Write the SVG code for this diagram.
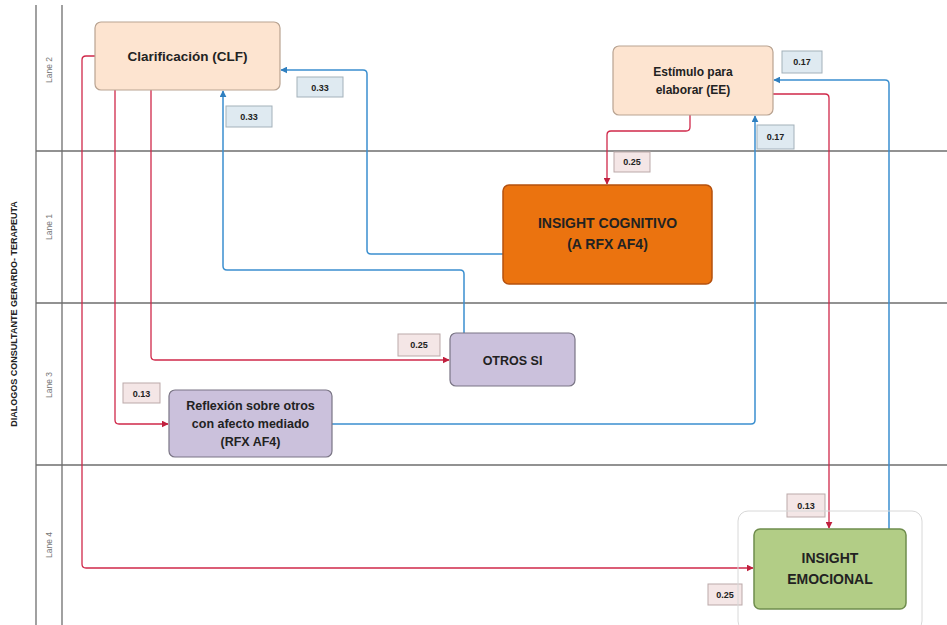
<svg xmlns="http://www.w3.org/2000/svg" width="947" height="625" viewBox="0 0 947 625">
<defs>
<marker id="ar" viewBox="0 0 10 10" refX="9" refY="5" markerWidth="7" markerHeight="7" orient="auto" markerUnits="userSpaceOnUse"><path d="M0,0 L10,5 L0,10 z" fill="#c0203e"/></marker>
<marker id="ab" viewBox="0 0 10 10" refX="9" refY="5" markerWidth="7" markerHeight="7" orient="auto" markerUnits="userSpaceOnUse"><path d="M0,0 L10,5 L0,10 z" fill="#2f7fbf"/></marker>
</defs>
<style>
.lane{stroke:#6e6e6e;stroke-width:1.3;fill:none}
.lt{font-family:"Liberation Sans",Arial,sans-serif;font-size:8.5px;fill:#777}
.t{font-family:"Liberation Sans",Arial,sans-serif;font-weight:bold;fill:#222;text-anchor:middle}
.r{stroke:#d0284a;stroke-width:1.3;fill:none;marker-end:url(#ar)}
.b{stroke:#3b8fcf;stroke-width:1.5;fill:none;marker-end:url(#ab)}
.lr{fill:#f4e6e6;stroke:#bba9a9;stroke-width:1}
.lb{fill:#dfeaf1;stroke:#a3b1ba;stroke-width:1}
.lbt{font-family:"Liberation Sans",Arial,sans-serif;font-weight:bold;font-size:9px;fill:#222;text-anchor:middle}
</style>
<rect width="947" height="625" fill="#ffffff"/>
<g id="lanes">
<line class="lane" x1="36" y1="5" x2="36" y2="625"/>
<line class="lane" x1="62" y1="5" x2="62" y2="625"/>
<line class="lane" x1="36" y1="151" x2="947" y2="151"/>
<line class="lane" x1="36" y1="303" x2="947" y2="303"/>
<line class="lane" x1="36" y1="465" x2="947" y2="465"/>
<text class="lt" transform="translate(52,70) rotate(-90)" text-anchor="middle">Lane 2</text>
<text class="lt" transform="translate(52,227) rotate(-90)" text-anchor="middle">Lane 1</text>
<text class="lt" transform="translate(52,385) rotate(-90)" text-anchor="middle">Lane 3</text>
<text class="lt" transform="translate(52,545) rotate(-90)" text-anchor="middle">Lane 4</text>
<text transform="translate(17,314) rotate(-90)" text-anchor="middle" style="font-family:'Liberation Sans',Arial,sans-serif;font-weight:bold;font-size:9px;fill:#222">DIALOGOS CONSULTANTE GERARDO- TERAPEUTA</text>
</g>
<g id="connectors">
<path class="r" d="M95,56 H86 Q82,56 82,60 V564 Q82,568 86,568 H753"/>
<path class="r" d="M115,90 V420 Q115,424 119,424 H168"/>
<path class="r" d="M151,90 V356 Q151,360 155,360 H449"/>
<path class="r" d="M690,115 V127 Q690,131 686,131 H611 Q607,131 607,135 V184"/>
<path class="r" d="M773,94 H825 Q829,94 829,98 V528"/>
<path class="b" d="M503,254 H371 Q367,254 367,250 V74 Q367,70 363,70 H281"/>
<path class="b" d="M464,333 V274 Q464,270 460,270 H227 Q223,270 223,266 V91"/>
<path class="b" d="M332,424 H751 Q755,424 755,420 V116"/>
<path class="b" d="M889,529 V84 Q889,80 885,80 H774"/>
<rect class="lb" x="297" y="77" width="46" height="20"/><text class="lbt" x="320" y="90.5">0.33</text>
<rect class="lb" x="226" y="106" width="46" height="21"/><text class="lbt" x="249" y="120">0.33</text>
<rect class="lb" x="782" y="51" width="40" height="22"/><text class="lbt" x="802" y="65">0.17</text>
<rect class="lb" x="757" y="125" width="37" height="24"/><text class="lbt" x="775.5" y="140">0.17</text>
<rect class="lr" x="614" y="152" width="36" height="20"/><text class="lbt" x="632" y="165">0.25</text>
<rect class="lr" x="398" y="334" width="42" height="22"/><text class="lbt" x="419" y="348">0.25</text>
<rect class="lr" x="123" y="383" width="37" height="20"/><text class="lbt" x="141.5" y="396.5">0.13</text>
<rect class="lr" x="787" y="494" width="38" height="23"/><text class="lbt" x="806" y="508.5">0.13</text>
<rect class="lr" x="708" y="584" width="34" height="21"/><text class="lbt" x="725" y="598">0.25</text>
</g>
<g id="clf">
<rect x="95" y="22" width="185" height="68" rx="6" fill="#fde4d0" stroke="#b9a391" stroke-width="1.2"/>
<text class="t" x="187.5" y="61" font-size="13.5">Clarificación (CLF)</text>
</g>
<g id="ee">
<rect x="613" y="46" width="160" height="69" rx="6" fill="#fde4d0" stroke="#b9a391" stroke-width="1.2"/>
<text class="t" x="693" y="76" font-size="12">Estímulo para</text>
<text class="t" x="693" y="94" font-size="12">elaborar (EE)</text>
</g>
<g id="insight-cognitivo">
<rect x="503" y="185" width="209" height="99" rx="6" fill="#eb730f" stroke="#b5510e" stroke-width="1.5"/>
<text class="t" x="607.5" y="228" font-size="14">INSIGHT COGNITIVO</text>
<text class="t" x="607.5" y="249" font-size="14">(A RFX AF4)</text>
</g>
<g id="otros-si">
<rect x="450" y="333" width="125" height="53" rx="6" fill="#cbc1dc" stroke="#7a7585" stroke-width="1.2"/>
<text class="t" x="512.5" y="364.5" font-size="12.5">OTROS SI</text>
</g>
<g id="rfx">
<rect x="169" y="390" width="163" height="67" rx="6" fill="#cbc1dc" stroke="#7a7585" stroke-width="1.2"/>
<text class="t" x="250.5" y="410" font-size="12.5">Reflexión sobre otros</text>
<text class="t" x="250.5" y="428" font-size="12.5">con afecto mediado</text>
<text class="t" x="250.5" y="446" font-size="12.5">(RFX AF4)</text>
</g>
<g id="insight-emocional">
<rect x="738" y="511" width="184" height="120" rx="10" fill="none" stroke="#d8d8d8" stroke-width="1"/>
<rect x="754" y="529" width="152" height="80" rx="6" fill="#b2cd86" stroke="#6f8d4d" stroke-width="1.5"/>
<text class="t" x="830" y="563" font-size="14">INSIGHT</text>
<text class="t" x="830" y="584" font-size="14">EMOCIONAL</text>
</g>
</svg>
